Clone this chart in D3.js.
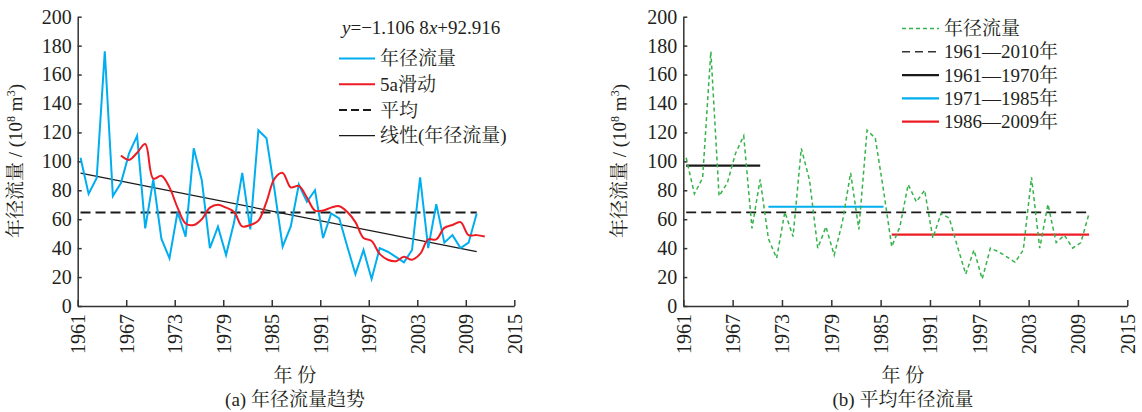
<!doctype html>
<html lang="zh-CN">
<head>
<meta charset="utf-8">
<title>年径流量</title>
<script src="https://d3js.org/d3.v7.min.js"></script>
<style>
  body { margin: 0; background: #fff; }
  .axis path, .axis line { stroke: #333; stroke-width: 1.5; }
</style>
</head>
<body>
<svg id="chart" width="1142" height="412"></svg>
<script>
// ---- data ----
var years = d3.range(1961, 2011);
var flow = [102.5, 77.5, 88.5, 176, 76, 85, 105.5, 117.7, 53.7, 87.5,
            46.5, 33, 65, 48, 109, 87, 40, 54.8, 35.2, 58,
            92, 53, 121.5, 116, 80, 41, 55, 84, 72, 80,
            47, 64, 60.6, 41, 22, 38.7, 18.7, 40, 37.5, 34,
            30.2, 38.7, 89, 40, 70.4, 43.8, 49, 40, 43.8, 64];
var maYears = d3.range(1966, 2012);
var ma5 = [104, 101, 106, 112, 88, 90, 82, 68, 57, 56,
           60, 68, 70, 68, 65, 55, 56, 59, 72, 88,
           92, 82, 83, 75, 66, 66, 68, 69, 65, 58,
           47, 45, 36, 32, 31, 34, 32, 36, 46, 46,
           54, 56, 58, 49, 49, 48];
var meanAll = 64.7;
var trendSlope = -1.1068, trendIntercept = 92.916;
var periodStart = [1961, 1971, 1986];
var periodEnd = [1970, 1985, 2010];
var periodMean = [97, 68.6, 49.3];
var periodColor = ["#1a1a1a", "#00aeef", "#ed1c24"];
var periodLabel = ["1961\u20141970年", "1971\u20141985年", "1986\u20142009年"];
var xTicks = [1961, 1967, 1973, 1979, 1985, 1991, 1997, 2003, 2009, 2015];
var yTicks = [0, 20, 40, 60, 80, 100, 120, 140, 160, 180, 200];

var FONT = "'Liberation Serif', 'Noto Serif CJK SC', 'Noto Sans CJK SC', serif";
var svg = d3.select("#chart");

function panel(x0, x1, ylabX, title, titleX) {
  var x = d3.scaleLinear().domain([1961, 2015]).range([x0, x1]);
  var y = d3.scaleLinear().domain([0, 200]).range([306, 16.7]);
  var g = svg.append("g");

  g.append("g").attr("class", "axis")
    .attr("transform", "translate(" + x0 + ",0)")
    .call(d3.axisLeft(y).tickValues(yTicks).tickSizeInner(-4).tickSizeOuter(0).tickPadding(6))
    .call(function(a) { a.selectAll("text").attr("class", "num").style("font-size", "20px"); });

  var xa = g.append("g").attr("class", "axis")
    .attr("transform", "translate(0,306)")
    .call(d3.axisBottom(x).tickValues(xTicks).tickFormat(d3.format("d")).tickSizeInner(-6).tickSizeOuter(0));
  xa.selectAll("text")
    .attr("class", "num")
    .style("font-size", "20px")
    .attr("transform", "rotate(-90)")
    .attr("x", -8).attr("y", 0).attr("dy", "0.35em")
    .attr("text-anchor", "end");

  var yl = g.append("text")
    .attr("transform", "translate(" + ylabX + ",161) rotate(-90)")
    .attr("text-anchor", "middle")
    .style("font-size", "19px");
  yl.append("tspan").text("年径流量 / (10");
  yl.append("tspan").attr("baseline-shift", "super").style("font-size", "12px").text("8");
  yl.append("tspan").text(" m");
  yl.append("tspan").attr("baseline-shift", "super").style("font-size", "12px").text("3");
  yl.append("tspan").text(")");

  g.append("text").attr("x", titleX).attr("y", 382).attr("text-anchor", "middle")
    .style("font-size", "19px").text("年 份");
  g.append("text").attr("x", titleX).attr("y", 406).attr("text-anchor", "middle")
    .style("font-size", "19px").text(title);
  return {x: x, y: y, g: g};
}

var shift = 0.35; // points sit slightly right of the year ticks

// ---------- (a) ----------
var A = panel(77.7, 514.3, 22, "(a) 年径流量趋势", 295);
var lineA = d3.line().x(function(d) { return A.x(d[0] + shift); }).y(function(d) { return A.y(d[1]); });

A.g.append("path")
  .datum([[years[0], meanAll], [years[years.length - 1], meanAll]])
  .attr("d", lineA).attr("fill", "none").attr("stroke", "#1a1a1a")
  .attr("stroke-width", 2).attr("stroke-dasharray", "10,5");

A.g.append("path")
  .datum([[years[0], trendSlope * 1 + trendIntercept], [years[years.length - 1], trendSlope * years.length + trendIntercept]])
  .attr("d", lineA).attr("fill", "none").attr("stroke", "#1a1a1a").attr("stroke-width", 1.2);

A.g.append("path")
  .datum(years.map(function(yr, i) { return [yr, flow[i]]; }))
  .attr("d", lineA).attr("fill", "none").attr("stroke", "#00aeef").attr("stroke-width", 2);

A.g.append("path")
  .datum(maYears.map(function(yr, i) { return [yr, ma5[i]]; }))
  .attr("d", lineA.curve(d3.curveCatmullRom.alpha(0.5))).attr("fill", "none")
  .attr("stroke", "#ed1c24").attr("stroke-width", 2);

// legend (a)
var eq = A.g.append("text").attr("x", 342).attr("y", 34).style("font-size", "19px");
eq.append("tspan").style("font-style", "italic").text("y");
eq.append("tspan").text("=\u22121.106 8");
eq.append("tspan").style("font-style", "italic").text("x");
eq.append("tspan").text("+92.916");

var legA = [
  {label: "年径流量", color: "#00aeef", w: 2, dash: null},
  {label: "5a滑动", color: "#ed1c24", w: 2, dash: null},
  {label: "平均", color: "#1a1a1a", w: 2, dash: "8,4"},
  {label: "线性(年径流量)", color: "#1a1a1a", w: 1.2, dash: null}
];
legA.forEach(function(d, i) {
  var yy = 58.5 + i * 25.7;
  A.g.append("line").attr("x1", 339).attr("x2", 375).attr("y1", yy).attr("y2", yy)
    .attr("stroke", d.color).attr("stroke-width", d.w).attr("stroke-dasharray", d.dash);
  A.g.append("text").attr("x", 380).attr("y", yy).attr("dy", "0.35em")
    .style("font-size", "19px").text(d.label);
});

// ---------- (b) ----------
var B = panel(683.3, 1127.3, 626, "(b) 平均年径流量", 903);
var lineB = d3.line().x(function(d) { return B.x(d[0] + shift); }).y(function(d) { return B.y(d[1]); });

B.g.append("path")
  .datum([[years[0], meanAll], [years[years.length - 1], meanAll]])
  .attr("d", lineB).attr("fill", "none").attr("stroke", "#1a1a1a")
  .attr("stroke-width", 1.6).attr("stroke-dasharray", "10,5");

periodMean.forEach(function(m, i) {
  B.g.append("path")
    .datum([[periodStart[i], m], [periodEnd[i], m]])
    .attr("d", lineB).attr("fill", "none").attr("stroke", periodColor[i]).attr("stroke-width", 2.2);
});

B.g.append("path")
  .datum(years.map(function(yr, i) { return [yr, flow[i]]; }))
  .attr("d", lineB).attr("fill", "none").attr("stroke", "#35b34a")
  .attr("stroke-width", 1.5).attr("stroke-dasharray", "4,3");

var legB = [
  {label: "年径流量", color: "#35b34a", w: 1.6, dash: "4,3"},
  {label: "1961\u20142010年", color: "#333", w: 1.6, dash: "8,5"}
];
periodLabel.forEach(function(l, i) {
  legB.push({label: l, color: periodColor[i], w: 2.2, dash: null});
});
legB.forEach(function(d, i) {
  var yy = 28.5 + i * 23.3;
  B.g.append("line").attr("x1", 902).attr("x2", 939).attr("y1", yy).attr("y2", yy)
    .attr("stroke", d.color).attr("stroke-width", d.w).attr("stroke-dasharray", d.dash);
  B.g.append("text").attr("x", 944).attr("y", yy).attr("dy", "0.35em")
    .style("font-size", "19px").text(d.label);
});

// fonts: serif digits on the axes, serif + CJK fallback elsewhere
svg.selectAll(".axis").attr("font-family", null);
svg.selectAll("text").style("font-family", FONT).style("fill", "#231f20");
svg.selectAll("text.num").style("font-family", "'Liberation Serif', 'Times New Roman', serif");
</script>
</body>
</html>
